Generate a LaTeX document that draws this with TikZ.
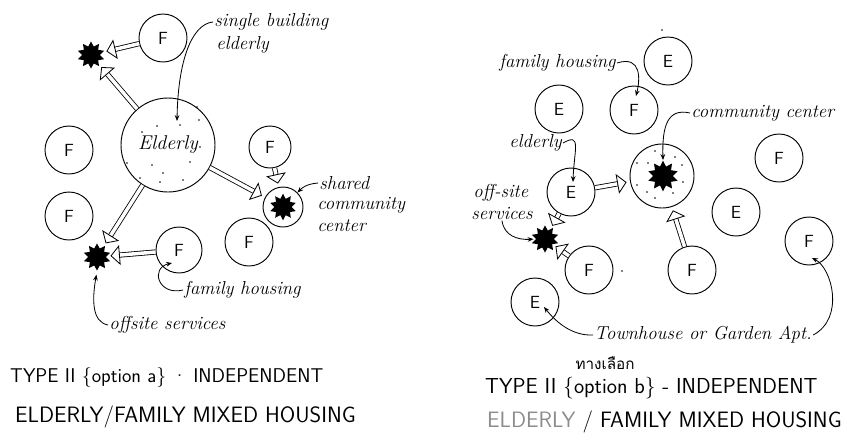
\documentclass[tikz,border=0pt]{standalone}
\usepackage{fontspec}
\newfontfamily\thaifont[Script=Thai]{Loma}
\usetikzlibrary{arrows.meta,shapes.geometric,calc}
\begin{document}
\begin{tikzpicture}[x=0.03cm,y=-0.03cm,
  circ/.style={circle,draw,line width=0.8pt,minimum size=1.44cm,inner sep=0pt,font=\sffamily\fontsize{15}{15}\selectfont},
  sstar/.style={star,star points=10,star point ratio=1.55,fill=black,draw=none,minimum size=0.82cm,inner sep=0pt},
  harrow/.style={line width=0.7pt,double,double distance=3pt,-{Triangle[open,width=17pt,length=8pt,line width=0.7pt]},shorten >=3pt,shorten <=0pt},
  hook/.style={line width=0.7pt,-{Stealth[length=5pt,width=4pt]}},
  lbl/.style={font=\itshape\fontsize{16}{16}\selectfont,inner sep=1pt},
  ttl/.style={font=\sffamily\fontsize{18}{18}\selectfont,inner sep=0pt,anchor=west},
  spot/.style={fill=black,circle,inner sep=0pt,minimum size=1.6pt}]
\useasboundingbox (0,0) rectangle (847,440);

% ---------------- left diagram ----------------
\node[circ] (fTop) at (163,38) {F};
\node[sstar] (sTop) at (91,55) {};
\node[circ,minimum size=2.82cm,font=\itshape\fontsize{17}{17}\selectfont] (eld) at (168,145) {Elderly};
\node[circ] (fL1) at (69,150) {F};
\node[circ] (fL2) at (69,216) {F};
\node[circ,minimum size=1.26cm] (fR1) at (270,147) {F};
\node[circ,minimum size=1.2cm] (shc) at (283,207) {};
\node[sstar,minimum size=0.8cm] (shs) at (283,207) {};
\node[circ] (fR2) at (249,242) {F};
\node[circ,minimum size=1.38cm] (fB) at (179,250) {F};
\node[sstar] (sBot) at (97,257) {};

\foreach \p in {(142,132),(157,126),(180,125),(199,120),(127,163),(152,165),(163,173),(190,162),(200,147),(160,182),(183,180),(197,107),(140,178)}
  \node[spot] at \p {};

\draw[harrow] (fTop) -- (sTop);
\draw[harrow] (eld) -- (sTop);
\draw[harrow] (eld) -- (sBot);
\draw[harrow] (fB) -- (sBot);
\draw[harrow] (eld) -- (shc);
\draw[harrow] (fR1) -- (shc);

\node[lbl,anchor=west] (sb1) at (213,22) {single building};
\node[lbl,anchor=west] (sb2) at (215,45) {elderly};
\coordinate (eldIn) at (177,121);
\draw[hook] (sb1.west) .. controls (192,24) and (178,60) .. (eldIn);

\node[lbl,anchor=west] (sh1) at (318,183) {shared};
\node[lbl,anchor=west] (sh2) at (316,205) {community};
\node[lbl,anchor=west] (sh3) at (316,226) {center};
\draw[hook] (sh1.west) .. controls (306,184) and (302,188) .. (shc.north east);

\node[lbl,anchor=west] (fh) at (183,290) {family housing};
\coordinate (fhIn) at (172,263);
\draw[hook] (fh.west) .. controls (158,296) and (150,268) .. (fhIn);

\node[lbl,anchor=west] (os) at (108,325) {offsite services};
\draw[hook,shorten >=3pt] (os.west) .. controls (92,322) and (92,300) .. (sBot.south);

\node[ttl,font=\sffamily\fontsize{17}{17}\selectfont] (t1) at (10,378) {TYPE II \{option a\} {\textperiodcentered} INDEPENDENT};
\node[ttl,font=\sffamily\fontsize{19}{19}\selectfont] (t2) at (15,417) {ELDERLY/FAMILY MIXED HOUSING};

% ---------------- right diagram ----------------
\node[circ] (eTop) at (668,61) {E};
\node[spot] (dotTop) at (662,30) {};
\node[circ] (eL) at (559,109) {E};
\node[circ] (fM) at (634,110) {F};
\node[circ] (fRR) at (779,158) {F};
\node[circ] (eC) at (571,192) {E};
\node[circ,minimum size=1.92cm] (cc) at (662,176) {};
\node[sstar,minimum size=0.92cm] (ccs) at (663,176) {};
\node[circ] (fBM) at (692,270) {F};
\node[circ] (eLR) at (736,212) {E};
\node[circ] (fFR) at (809,241) {F};
\node[sstar] (sOff) at (545,239) {};
\node[circ] (fS) at (589,270) {F};
\node[circ] (eBL) at (535,302) {E};
\node[spot] (dotS) at (622,271) {};

\foreach \p in {(655,151),(675,157),(683,182),(637,163),(637,185),(647,192),(655,198),(673,193),(648,163),(682,165)}
  \node[spot] at \p {};

\draw[harrow] (eC) -- (cc);
\draw[harrow] (fBM) -- (cc);
\draw[harrow] (eC) -- (sOff);
\draw[harrow] (fS) -- (sOff);

\node[lbl,anchor=west] (fhR) at (498,63) {family housing};
\coordinate (fMIn) at (636,96);
\draw[hook] (fhR.east) .. controls (642,55) and (640,80) .. (fMIn);

\node[lbl,anchor=west] (ccR) at (690,113) {community center};
\coordinate (ccIn) at (663,160);
\draw[hook] (ccR.west) .. controls (668,108) and (662,125) .. (ccIn);

\node[lbl,anchor=west] (elR) at (508,143) {elderly};
\coordinate (eCIn) at (573,182);
\draw[hook] (elR.east) .. controls (582,132) and (574,150) .. (eCIn);

\node[lbl,anchor=west] (osR1) at (472,193) {off-site};
\node[lbl,anchor=west] (osR2) at (470,213) {services};
\draw[hook,shorten >=2pt] (osR2.south) .. controls (504,236) and (518,240) .. (sOff.west);

\node[lbl,anchor=west] (th) at (593,335) {Townhouse or Garden Apt.};
\coordinate (eBLIn) at (544,307);
\coordinate (fFRIn) at (812,258);
\draw[hook] (th.west) .. controls (572,336) and (556,322) .. (eBLIn);
\draw[hook] (th.east) .. controls (845,318) and (832,268) .. (fFRIn);

\node[font=\thaifont\fontsize{13}{13}\selectfont,inner sep=0pt] (thai) at (605,363) {ทางเลือก};
\node[ttl,font=\sffamily\fontsize{18.5}{18.5}\selectfont] (t3) at (485,388) {TYPE II \{option b\} - INDEPENDENT};
\node[ttl,font=\sffamily\fontsize{19}{19}\selectfont] (t4) at (487,422) {\textcolor{black!45}{ELDERLY} / FAMILY MIXED HOUSING};
\end{tikzpicture}
\end{document}
